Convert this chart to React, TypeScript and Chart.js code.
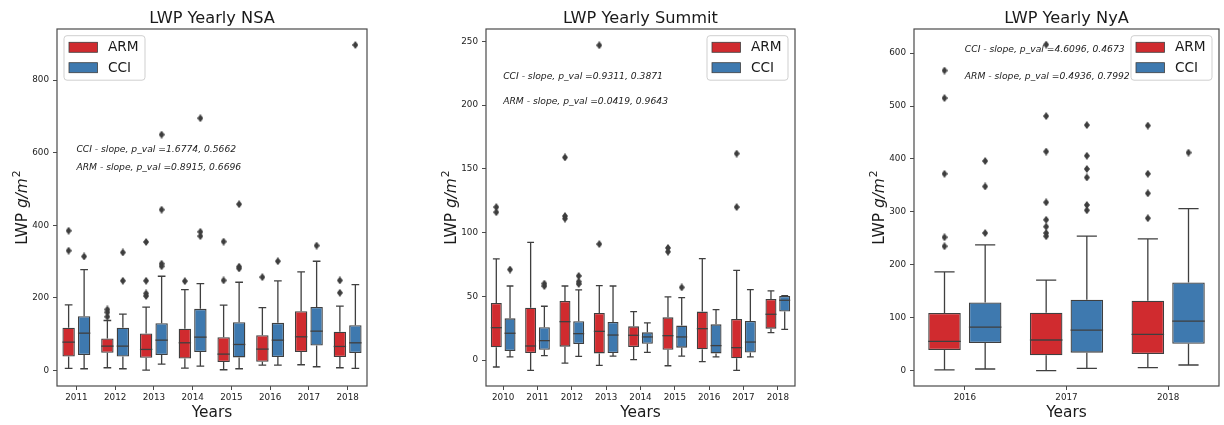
import React, { useEffect, useRef } from 'react';
import { Chart, registerables } from 'chart.js';

Chart.register(...registerables);

// ---------------- DATA ----------------
// NSA
const nsaYears = ['2011', '2012', '2013', '2014', '2015', '2016', '2017', '2018'];
const nsaYTicks = [0, 200, 400, 600, 800];
const nsaArmLow = [5.5, 7.3, 0.9, 6.4, 1.8, 14.7, 15.6, 7.3];
const nsaArmQ1 = [38.5, 48.6, 34.9, 33, 22.9, 23.9, 50.4, 36.7];
const nsaArmMed = [77.9, 66.9, 57.8, 76.1, 44.9, 58.7, 92.6, 66];
const nsaArmQ3 = [117.4, 88, 101.8, 114.7, 91.7, 97.2, 163.2, 106.4];
const nsaArmHigh = [180.7, 137.6, 174.2, 222.8, 179.7, 173.3, 271.4, 177];
const nsaArmOut = [[385, 330], [168, 160, 148], [354, 247, 212, 205], [246], [355, 248], [257], [], [248, 214]];
const nsaCciLow = [4.6, 4.6, 17.4, 11.9, 4.6, 14.7, 10.1, 5.5];
const nsaCciQ1 = [42.2, 38.5, 42.2, 50.4, 35.8, 36.7, 68.8, 47.7];
const nsaCciMed = [102.7, 66.9, 83.4, 91.7, 71.5, 83.4, 108.2, 76];
const nsaCciQ3 = [149.4, 117.4, 130.2, 169.7, 132.9, 131, 175, 124.7];
const nsaCciHigh = [277.9, 155, 259.5, 239.3, 243, 246.7, 300.8, 236.6];
const nsaCciOut = [[314], [325, 247], [650, 443, 294, 287], [695, 382, 370], [458, 286, 281], [301], [344], [897]];
const nsaNotes = ['CCI - slope, p_val =1.6774, 0.5662', 'ARM - slope, p_val =0.8915, 0.6696'];
const nsaNoteY = [608, 559];

// Summit
const sumYears = ['2010', '2011', '2012', '2013', '2014', '2015', '2016', '2017', '2018'];
const sumYTicks = [0, 50, 100, 150, 200, 250];
const sumArmLow = [-5.5, -8.1, -2.4, -4.2, 0.3, -4.5, -1.3, -8.1, 21.5];
const sumArmQ1 = [10, 5.5, 10.5, 5.2, 10.2, 8.1, 8.4, 1.3, 24.6];
const sumArmMed = [25.4, 11, 30.1, 22.5, 19.4, 19.1, 24.6, 9.7, 35.9];
const sumArmQ3 = [44.8, 41.1, 46.3, 36.9, 26.4, 33.5, 38, 32.2, 47.9];
const sumArmHigh = [79.3, 92.4, 58.1, 58.4, 38, 49.5, 79.6, 70.4, 54.2];
const sumArmOut = [[120, 116], [], [159, 113, 111], [247, 91], [], [88, 85], [], [162, 120], []];
const sumCciLow = [2.4, 3.4, 2.9, 3.1, 6, 3.1, 2.4, 2.4, 24.1];
const sumCciQ1 = [7.1, 8.1, 12.6, 5.5, 12.8, 9.7, 5.2, 5.8, 38];
const sumCciMed = [21, 15.2, 20.7, 19.6, 18.1, 18.1, 11.3, 14.1, 46.9];
const sumCciQ3 = [32.7, 25.7, 30.4, 29.8, 21.7, 27, 28, 30.6, 50.3];
const sumCciHigh = [58.1, 42.2, 55, 58.1, 29.1, 49, 39.5, 55.2, 50.5];
const sumCciOut = [[71], [60, 58], [66, 61.5, 59.7], [], [], [57], [], [], []];
const sumNotes = ['CCI - slope, p_val =0.9311, 0.3871', 'ARM - slope, p_val =0.0419, 0.9643'];
const sumNoteY = [222.5, 202.7];

// NyA
const nyaYears = ['2016', '2017', '2018'];
const nyaYTicks = [0, 100, 200, 300, 400, 500, 600];
const nyaArmLow = [1.3, 0, 5.7];
const nyaArmQ1 = [39, 28.9, 31.4];
const nyaArmMed = [55.3, 57.9, 68.6];
const nyaArmQ3 = [108.8, 109.5, 132.1];
const nyaArmHigh = [186.8, 171.1, 249];
const nyaArmOut = [[567, 515, 372, 252, 235], [616, 481, 414, 318, 285, 272, 260, 254], [463, 372, 335, 288]];
const nyaCciLow = [3.1, 4.4, 10.7];
const nyaCciQ1 = [52.2, 34, 50.9];
const nyaCciMed = [82.4, 76.7, 93.7];
const nyaCciQ3 = [128.9, 134, 166.7];
const nyaCciHigh = [237.7, 254.1, 306.3];
const nyaCciOut = [[396, 348, 260], [464, 406, 381, 365, 313, 303], [412]];
const nyaNotes = ['CCI - slope, p_val =4.6096, 0.4673', 'ARM - slope, p_val =0.4936, 0.7992'];
const nyaNoteY = [605.7, 555];

const seriesNames = ['ARM', 'CCI'];

// ---------------- STYLE ----------------
const FONT = '"DejaVu Sans", "Liberation Sans", sans-serif';
const ARM_FILL = '#d02b2f';
const CCI_FILL = '#3e79af';
const LINE = '#3f3f3f';
const SPINE = '#4a4a4a';
const TEXT = '#1a1a1a';
const H = 425;
const HUE_OFFSET = 0.2;

type Stats = { low: number[]; q1: number[]; med: number[]; q3: number[]; high: number[]; out: number[][] };
type Panel = {
  title: string;
  years: string[];
  yTicks: number[];
  arm: Stats;
  cci: Stats;
  notes: string[];
  noteY: number[];
  yMin: number;
  yMax: number;
  legendSide: 'left' | 'right';
  left: number;
  width: number;
  yAxisWidth: number;
  padRight: number;
};

const panels: Panel[] = [
  {
    title: 'LWP Yearly NSA', years: nsaYears, yTicks: nsaYTicks,
    arm: { low: nsaArmLow, q1: nsaArmQ1, med: nsaArmMed, q3: nsaArmQ3, high: nsaArmHigh, out: nsaArmOut },
    cci: { low: nsaCciLow, q1: nsaCciQ1, med: nsaCciMed, q3: nsaCciQ3, high: nsaCciHigh, out: nsaCciOut },
    notes: nsaNotes, noteY: nsaNoteY, yMin: -43, yMax: 941, legendSide: 'left',
    left: 0, width: 420, yAxisWidth: 57, padRight: 53,
  },
  {
    title: 'LWP Yearly Summit', years: sumYears, yTicks: sumYTicks,
    arm: { low: sumArmLow, q1: sumArmQ1, med: sumArmMed, q3: sumArmQ3, high: sumArmHigh, out: sumArmOut },
    cci: { low: sumCciLow, q1: sumCciQ1, med: sumCciMed, q3: sumCciQ3, high: sumCciHigh, out: sumCciOut },
    notes: sumNotes, noteY: sumNoteY, yMin: -20.4, yMax: 259.8, legendSide: 'right',
    left: 420, width: 430, yAxisWidth: 66, padRight: 55,
  },
  {
    title: 'LWP Yearly NyA', years: nyaYears, yTicks: nyaYTicks,
    arm: { low: nyaArmLow, q1: nyaArmQ1, med: nyaArmMed, q3: nyaArmQ3, high: nyaArmHigh, out: nyaArmOut },
    cci: { low: nyaCciLow, q1: nyaCciQ1, med: nyaCciMed, q3: nyaCciQ3, high: nyaCciHigh, out: nyaCciOut },
    notes: nyaNotes, noteY: nyaNoteY, yMin: -29, yMax: 645.5, legendSide: 'right',
    left: 850, width: 374, yAxisWidth: 64, padRight: 0,
  },
];

function makeDiamond(): HTMLCanvasElement {
  const c = document.createElement('canvas');
  c.width = 6;
  c.height = 8;
  const g = c.getContext('2d')!;
  g.fillStyle = '#3d3d3d';
  g.beginPath();
  g.moveTo(3, 0);
  g.lineTo(6, 4);
  g.lineTo(3, 8);
  g.lineTo(0, 4);
  g.closePath();
  g.fill();
  return c;
}

const boxPlugin = {
  id: 'boxExtras',
  beforeDatasetsDraw(chart: any) {
    const ctx = chart.ctx;
    const ys = chart.scales.y;
    ctx.save();
    ctx.strokeStyle = LINE;
    ctx.lineWidth = 1.3;
    chart.data.datasets.forEach((ds: any, di: number) => {
      if (!ds.stats) return;
      const meta = chart.getDatasetMeta(di);
      meta.data.forEach((bar: any, i: number) => {
        const { x, width } = bar.getProps(['x', 'width'], true);
        const s: Stats = ds.stats;
        const pLo = ys.getPixelForValue(s.low[i]);
        const pQ1 = ys.getPixelForValue(s.q1[i]);
        const pQ3 = ys.getPixelForValue(s.q3[i]);
        const pHi = ys.getPixelForValue(s.high[i]);
        const cap = width * 0.31;
        ctx.beginPath();
        ctx.moveTo(x, pQ1);
        ctx.lineTo(x, pLo);
        ctx.moveTo(x - cap, pLo);
        ctx.lineTo(x + cap, pLo);
        ctx.moveTo(x, pQ3);
        ctx.lineTo(x, pHi);
        ctx.moveTo(x - cap, pHi);
        ctx.lineTo(x + cap, pHi);
        ctx.stroke();
      });
    });
    ctx.restore();
  },
  afterDatasetsDraw(chart: any) {
    const ctx = chart.ctx;
    const ys = chart.scales.y;
    ctx.save();
    ctx.strokeStyle = LINE;
    ctx.lineWidth = 1.3;
    chart.data.datasets.forEach((ds: any, di: number) => {
      if (!ds.stats) return;
      const meta = chart.getDatasetMeta(di);
      meta.data.forEach((bar: any, i: number) => {
        const { x, width } = bar.getProps(['x', 'width'], true);
        const pM = ys.getPixelForValue(ds.stats.med[i]);
        ctx.beginPath();
        ctx.moveTo(x - width / 2, pM);
        ctx.lineTo(x + width / 2, pM);
        ctx.stroke();
      });
    });
    ctx.restore();
  },
};

function makeDecor(p: Panel) {
  return {
    id: 'decor',
    afterDraw(chart: any) {
      const ctx = chart.ctx;
      const a = chart.chartArea;
      const xs = chart.scales.x;
      const ys = chart.scales.y;
      ctx.save();
      // frame
      ctx.strokeStyle = SPINE;
      ctx.lineWidth = 1.2;
      ctx.strokeRect(a.left, a.top, a.right - a.left, a.bottom - a.top);

      // title
      ctx.fillStyle = TEXT;
      ctx.font = `16.2px ${FONT}`;
      ctx.textAlign = 'center';
      ctx.textBaseline = 'middle';
      ctx.fillText(p.title, (a.left + a.right) / 2, 18.3);

      // y label: LWP g/m^2
      ctx.save();
      const cx = a.left - 36;
      const cy = (a.top + a.bottom) / 2;
      const fs = 15.4;
      ctx.translate(cx, cy);
      ctx.rotate(-Math.PI / 2);
      ctx.textAlign = 'left';
      ctx.textBaseline = 'alphabetic';
      const partA = 'LWP ';
      const partB = 'g/m';
      const partC = '2';
      ctx.font = `${fs}px ${FONT}`;
      const wA = ctx.measureText(partA).width;
      ctx.font = `italic ${fs}px ${FONT}`;
      const wB = ctx.measureText(partB).width;
      ctx.font = `${fs * 0.7}px ${FONT}`;
      const wC = ctx.measureText(partC).width;
      const total = wA + wB + wC + 1;
      let sx = -total / 2;
      const base = fs * 0.36;
      ctx.font = `${fs}px ${FONT}`;
      ctx.fillText(partA, sx, base);
      sx += wA;
      ctx.font = `italic ${fs}px ${FONT}`;
      ctx.fillText(partB, sx, base);
      sx += wB + 1;
      ctx.font = `${fs * 0.7}px ${FONT}`;
      ctx.fillText(partC, sx, base - fs * 0.45);
      ctx.restore();

      // notes
      ctx.fillStyle = '#222';
      ctx.font = `italic 9.2px ${FONT}`;
      ctx.textAlign = 'left';
      ctx.textBaseline = 'middle';
      const nx = xs.getPixelForValue(0);
      p.notes.forEach((t, i) => ctx.fillText(t, nx, ys.getPixelForValue(p.noteY[i])));

      // legend
      const lw = 81;
      const lh = 44.5;
      const lx = p.legendSide === 'left' ? a.left + 7 : a.right - 7 - lw;
      const ly = a.top + 6.7;
      ctx.beginPath();
      if (ctx.roundRect) ctx.roundRect(lx, ly, lw, lh, 3);
      else ctx.rect(lx, ly, lw, lh);
      ctx.fillStyle = 'rgba(255,255,255,0.8)';
      ctx.fill();
      ctx.strokeStyle = '#cfcfcf';
      ctx.lineWidth = 1;
      ctx.stroke();
      const bars = chart.data.datasets.filter((d: any) => d.stats);
      bars.forEach((d: any, i: number) => {
        const rowY = ly + 11.6 + i * 20.4;
        ctx.fillStyle = d.backgroundColor;
        ctx.fillRect(lx + 5, rowY - 5, 28.5, 10);
        ctx.strokeStyle = LINE;
        ctx.lineWidth = 0.8;
        ctx.strokeRect(lx + 5, rowY - 5, 28.5, 10);
        ctx.fillStyle = TEXT;
        ctx.font = `13.7px ${FONT}`;
        ctx.textAlign = 'left';
        ctx.textBaseline = 'middle';
        ctx.fillText(d.label, lx + 44, rowY + 0.5);
      });
      ctx.restore();
    },
  };
}

function buildConfig(p: Panel, diamond: HTMLCanvasElement): any {
  const n = p.years.length;
  const series = [p.arm, p.cci];
  const fills = [ARM_FILL, CCI_FILL];
  const offsets = [-HUE_OFFSET, HUE_OFFSET];
  const barSets = series.map((s, k) => ({
    type: 'bar',
    label: seriesNames[k],
    data: s.q1.map((v, i) => ({ x: i + offsets[k], y: [v, s.q3[i]] })),
    backgroundColor: fills[k],
    borderColor: LINE,
    borderWidth: 1.3,
    borderSkipped: false,
    grouped: false,
    categoryPercentage: 1,
    barPercentage: 0.8,
    xAxisID: 'x',
    yAxisID: 'y',
    stats: s,
  }));
  const outSets = series.map((s, k) => ({
    type: 'scatter',
    label: seriesNames[k] + ' outliers',
    data: s.out.flatMap((vals, i) => vals.map((v) => ({ x: i + offsets[k], y: v }))),
    pointStyle: diamond,
    pointRadius: 3.5,
    backgroundColor: '#3d3d3d',
    borderColor: '#3d3d3d',
    grouped: false,
    xAxisID: 'x',
    yAxisID: 'y',
  }));
  return {
    type: 'bar',
    data: { datasets: [...barSets, ...outSets] },
    options: {
      responsive: false,
      maintainAspectRatio: false,
      animation: false,
      events: [],
      layout: { padding: { left: 0, right: p.padRight, top: 29, bottom: 0 } },
      plugins: { legend: { display: false }, tooltip: { enabled: false }, title: { display: false } },
      scales: {
        x: {
          type: 'linear',
          position: 'bottom',
          min: -0.5,
          max: n - 0.5,
          offset: false,
          afterFit: (sc: any) => { sc.height = 39; },
          afterBuildTicks: (sc: any) => { sc.ticks = p.years.map((_, i) => ({ value: i })); },
          border: { display: false },
          grid: { display: true, drawOnChartArea: false, drawTicks: true, tickLength: 4, color: SPINE, offset: false },
          ticks: {
            color: '#222', font: { size: 8.8, family: FONT }, padding: 2, maxRotation: 0, autoSkip: false,
            callback: (v: number) => p.years[Math.round(v)] ?? '',
          },
          title: { display: true, text: 'Years', color: TEXT, font: { size: 15.4, family: FONT }, padding: { top: 0, bottom: 3 } },
        },
        y: {
          type: 'linear',
          position: 'left',
          min: p.yMin,
          max: p.yMax,
          afterFit: (sc: any) => { sc.width = p.yAxisWidth; },
          afterBuildTicks: (sc: any) => { sc.ticks = p.yTicks.map((v) => ({ value: v })); },
          border: { display: false },
          grid: { display: true, drawOnChartArea: false, drawTicks: true, tickLength: 4, color: SPINE },
          ticks: { color: '#222', font: { size: 8.8, family: FONT }, padding: 4 },
        },
      },
    },
    plugins: [boxPlugin, makeDecor(p)],
  };
}

function PanelChart({ p }: { p: Panel }) {
  const ref = useRef<HTMLCanvasElement>(null);
  useEffect(() => {
    const diamond = makeDiamond();
    const chart = new Chart(ref.current!, buildConfig(p, diamond));
    return () => chart.destroy();
  }, [p]);
  return (
    <canvas
      ref={ref}
      width={p.width}
      height={H}
      style={{ position: 'absolute', left: p.left, top: 0, width: p.width, height: H }}
    />
  );
}

export default function App() {
  Chart.defaults.font.family = FONT;
  return (
    <div style={{ position: 'fixed', left: 0, top: 0, width: 1224, height: H, background: '#fff', overflow: 'hidden' }}>
      {panels.map((p) => (
        <PanelChart key={p.title} p={p} />
      ))}
    </div>
  );
}
